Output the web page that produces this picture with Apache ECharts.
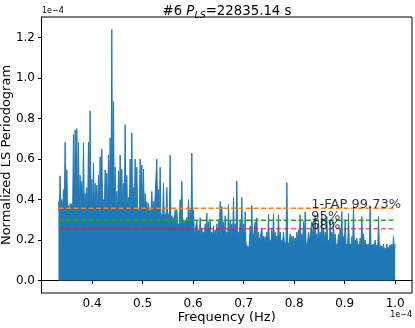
<!DOCTYPE html>
<html>
<head>
<meta charset="utf-8">
<script src="https://cdn.jsdelivr.net/npm/echarts@6/dist/echarts.min.js"></script>
<style>
  html, body { margin: 0; padding: 0; background: #fff; }
  #chart { width: 415px; height: 328px; }
</style>
</head>
<body>
<div id="chart"></div>
<script>
// periodogram peak heights (units of 1e-4), sampled left to right on a uniform frequency grid
const fStart = 0.3333 // 1e-4 Hz
const fEnd = 1.0
const peaks = [
  0.39, 0.517, 0.40, 0.45, 0.683, 0.547, 0.37, 0.38, 0.38, 0.72, 0.744, 0.75, 0.685, 0.52, 0.49, 0.68, 0.43, 0.46, 0.685, 0.838,
  0.50, 0.58, 0.48, 0.47, 0.52, 0.612, 0.65, 0.40, 0.547, 0.53, 0.62, 0.705, 1.24, 0.884, 0.56, 0.44, 0.54, 0.62, 0.55, 0.48,
  0.77, 0.52, 0.41, 0.60, 0.73, 0.46, 0.60, 0.56, 0.35, 0.60, 0.57, 0.55, 0.43, 0.39, 0.38, 0.35, 0.44, 0.39, 0.33, 0.60,
  0.45, 0.56, 0.33, 0.48, 0.33, 0.46, 0.33, 0.62, 0.32, 0.31, 0.35, 0.35, 0.28, 0.40, 0.49, 0.30, 0.30, 0.31, 0.40, 0.35,
  0.63, 0.35,
  0.217, 0.30, 0.25, 0.31, 0.26, 0.24, 0.28, 0.333, 0.29, 0.30, 0.24, 0.27, 0.25, 0.28, 0.30, 0.39, 0.367, 0.29, 0.32, 0.24,
  0.375, 0.30, 0.28, 0.41, 0.28, 0.492, 0.24, 0.30, 0.41, 0.28, 0.34, 0.176, 0.16, 0.27, 0.37, 0.18, 0.29, 0.31, 0.24, 0.19,
  0.26, 0.22,
  0.217, 0.24, 0.325, 0.20, 0.26, 0.33, 0.24, 0.22, 0.325, 0.24, 0.20, 0.24, 0.18, 0.484, 0.18, 0.23, 0.22, 0.217, 0.21, 0.24,
  0.25, 0.325, 0.23, 0.29, 0.34, 0.17, 0.24, 0.19, 0.29, 0.26, 0.325, 0.23, 0.30, 0.24, 0.33, 0.26, 0.24, 0.316, 0.20, 0.30,
  0.24, 0.29,
  0.23, 0.17, 0.23, 0.26, 0.34, 0.217, 0.30, 0.18, 0.33, 0.18, 0.217, 0.37, 0.20, 0.21, 0.18, 0.21, 0.316, 0.23, 0.20, 0.18,
  0.18, 0.37, 0.17, 0.18, 0.20, 0.176, 0.316, 0.176, 0.17, 0.18, 0.16, 0.18, 0.155, 0.176, 0.18, 0.217, 0.18
]
// top of the dense (solid) band between peaks, one value per 10 peaks
const bandTop = [
  0.34, 0.34, 0.34, 0.34, 0.34, 0.33, 0.30, 0.27, 0.22, 0.21,
  0.21, 0.18, 0.19, 0.19, 0.19, 0.19, 0.18, 0.17, 0.17, 0.15, 0.15
]

// false alarm levels (1e-4)
const fapLevels = [0.357, 0.298, 0.255]
const fapNames = ['1-FAP 99.73%', '95%', '68%']
const fapColors = ['#ff7f0e', '#2ca02c', 'rgba(214,39,40,0.7)']
const fapTextX = 0.834

const xTicks = [0.4, 0.5, 0.6, 0.7, 0.8, 0.9, 1.0]
const yTicks = [0.0, 0.2, 0.4, 0.6, 0.8, 1.0, 1.2]

// frequency grid
const step = (fEnd - fStart) / (peaks.length - 1)
const lsData = []
peaks.forEach((v, i) => {
  const f = fStart + i * step
  lsData.push([f, v])
  if (i < peaks.length - 1) lsData.push([f + step / 2, bandTop[Math.floor(i / 10)]])
})

const chart = echarts.init(document.getElementById('chart'))
const font = 'DejaVu Sans'

const series = [{
  type: 'line',
  data: lsData,
  showSymbol: false,
  symbol: 'none',
  lineStyle: { color: '#1f77b4', width: 1 },
  areaStyle: { color: '#1f77b4', opacity: 1 },
  sampling: null,
  silent: true,
  z: 2
}]

fapLevels.forEach((lvl, i) => {
  series.push({
    type: 'line',
    data: [[fStart, lvl], [fEnd, lvl]],
    symbol: 'none',
    lineStyle: { color: fapColors[i], width: 1.5, type: [5, 2.5] },
    silent: true,
    z: 3
  })
  series.push({
    type: 'scatter',
    data: [[fapTextX, lvl]],
    symbolSize: 0,
    silent: true,
    z: 4,
    label: {
      show: true,
      position: [0, 0],
      align: 'left',
      verticalAlign: 'bottom',
      offset: [0, 3],
      formatter: fapNames[i],
      color: '#000',
      fontFamily: font,
      fontSize: 13
    }
  })
})

chart.setOption({
  animation: false,
  title: {
    text: '{a|#6 }{i|P}{s|LS}{a|=22835.14 s}',
    left: 222,
    textAlign: 'center',
    top: 0,
    textStyle: {
      fontWeight: 'normal',
      rich: {
        a: { fontFamily: font, fontSize: 13.3, fontWeight: 'normal', color: '#000', verticalAlign: 'top' },
        i: { fontFamily: font, fontSize: 13.3, fontWeight: 'normal', color: '#000', fontStyle: 'italic', verticalAlign: 'top' },
        s: { fontFamily: font, fontSize: 9.5, fontWeight: 'normal', color: '#000', fontStyle: 'italic', verticalAlign: 'top', padding: [6, 0, 0, 0] }
      }
    }
  },
  grid: {
    left: 41.5, right: 3, top: 17, bottom: 35,
    outerBoundsMode: 'none',
    containLabel: false,
    show: true, borderColor: '#000', borderWidth: 1, backgroundColor: 'transparent'
  },
  xAxis: {
    type: 'value',
    min: 0.2997,
    max: 1.0333,
    name: 'Frequency (Hz)',
    nameLocation: 'middle',
    nameGap: 18,
    nameMoveOverlap: false,
    nameTextStyle: { fontFamily: font, fontSize: 13, color: '#000' },
    splitLine: { show: false },
    axisLine: { show: true, lineStyle: { color: '#000', width: 1 } },
    axisTick: { show: true, inside: false, length: 3.5, lineStyle: { color: '#000' }, customValues: xTicks },
    axisLabel: {
      margin: 5, fontFamily: font, fontSize: 12, color: '#000',
      customValues: xTicks, formatter: v => v.toFixed(1)
    }
  },
  yAxis: {
    type: 'value',
    min: -0.062,
    max: 1.302,
    name: 'Normalized LS Periodogram',
    nameLocation: 'middle',
    nameGap: 28,
    nameMoveOverlap: false,
    nameTextStyle: { fontFamily: font, fontSize: 13, color: '#000' },
    splitLine: { show: false },
    axisLine: { show: true, lineStyle: { color: '#000', width: 1 } },
    axisTick: { show: true, inside: false, length: 3.5, lineStyle: { color: '#000' }, customValues: yTicks },
    axisLabel: {
      margin: 6.5, fontFamily: font, fontSize: 12, color: '#000',
      customValues: yTicks, formatter: v => v.toFixed(1)
    }
  },
  graphic: [
    { type: 'text', left: 42, top: 7, style: { text: '1e\u22124', fontFamily: font, fontSize: 8, fill: '#000' } },
    { type: 'text', right: 3, top: 311, style: { text: '1e\u22124', fontFamily: font, fontSize: 8, fill: '#000' } }
  ],
  series: series
})
</script>
</body>
</html>
